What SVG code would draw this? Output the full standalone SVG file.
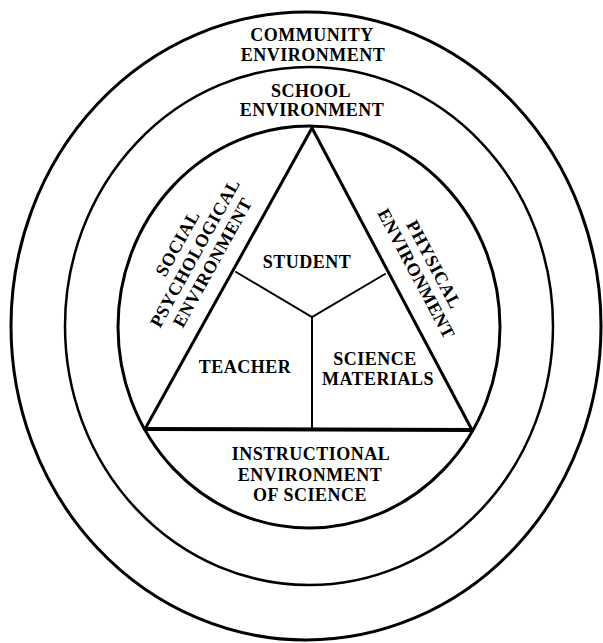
<svg xmlns="http://www.w3.org/2000/svg" width="603" height="643" viewBox="0 0 603 643">
<style>
.ring{fill:none;stroke:#000;}
.lbl{font-family:"Liberation Serif","Times New Roman",serif;font-weight:bold;font-size:18px;letter-spacing:0.5px;fill:#000;text-anchor:middle;}
.edge{stroke:#000;fill:none;stroke-linecap:round;stroke-linejoin:miter;}
</style>
<rect width="603" height="643" fill="#fff"/>
<g id="community">
<ellipse class="ring" cx="306" cy="326" rx="295" ry="314" stroke-width="3"/>
<text class="lbl" x="312" y="41">COMMUNITY</text>
<text class="lbl" x="313" y="61">ENVIRONMENT</text>
</g>
<g id="school">
<ellipse class="ring" cx="309" cy="326" rx="244" ry="259" stroke-width="2.5"/>
<text class="lbl" x="311" y="97">SCHOOL</text>
<text class="lbl" x="312" y="116">ENVIRONMENT</text>
</g>
<g id="instructional">
<ellipse class="ring" cx="309" cy="327" rx="191" ry="201" stroke-width="3"/>
<text class="lbl" x="311" y="460">INSTRUCTIONAL</text>
<text class="lbl" x="310" y="481">ENVIRONMENT</text>
<text class="lbl" x="310" y="501">OF SCIENCE</text>
</g>
<g id="triangle">
<polyline class="edge" points="145,429 312,128 472,430" stroke-width="3"/>
<line class="edge" x1="145" y1="429" x2="472" y2="430" stroke-width="4"/>
</g>
<g id="social-psychological">
<g transform="translate(195,253) rotate(-61)">
<text class="lbl" x="0" y="-14">SOCIAL</text>
<text class="lbl" x="0" y="6">PSYCHOLOGICAL</text>
<text class="lbl" x="0" y="26">ENVIRONMENT</text>
</g>
</g>
<g id="physical">
<g transform="translate(425,269) rotate(62)">
<text class="lbl" x="0" y="-4">PHYSICAL</text>
<text class="lbl" x="0" y="16">ENVIRONMENT</text>
</g>
</g>
<g id="connectors">
<polyline class="edge" points="236,272 312,317 385,274" stroke-width="2"/>
<line class="edge" x1="312" y1="317" x2="312" y2="429" stroke-width="2"/>
</g>
<g id="student"><text class="lbl" x="307" y="268">STUDENT</text></g>
<g id="teacher"><text class="lbl" x="245" y="373">TEACHER</text></g>
<g id="materials">
<text class="lbl" x="375" y="365">SCIENCE</text>
<text class="lbl" x="378" y="385">MATERIALS</text>
</g>
</svg>
